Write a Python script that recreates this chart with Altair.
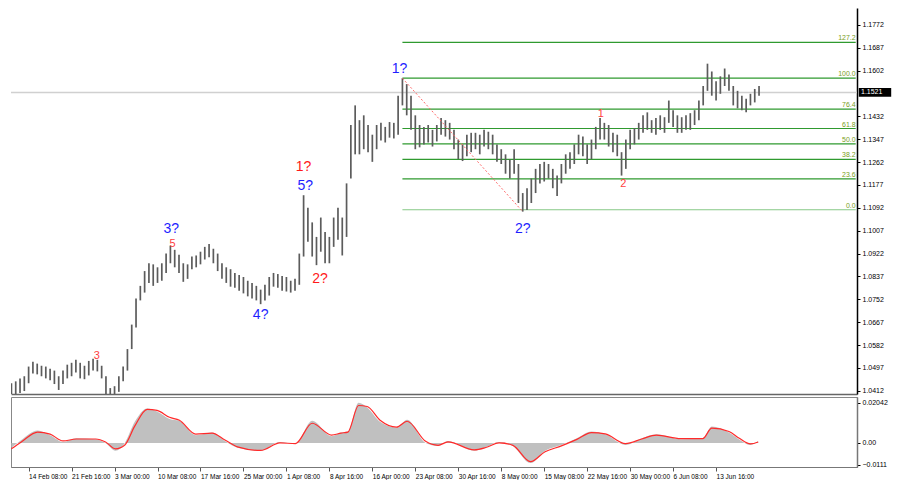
import json
import altair as alt
import pandas as pd

# ---------------- data ----------------
bar_high = [1.0440, 1.0447, 1.0458, 1.0466, 1.0502, 1.0520, 1.0513, 1.0505, 1.0502, 1.0494,
            1.0487, 1.0466, 1.0487, 1.0509, 1.0516, 1.0527, 1.0516, 1.0505, 1.0523, 1.0531,
            1.0527, 1.0505, 1.0466, 1.0422, 1.0429, 1.0466, 1.0502, 1.0567, 1.0658, 1.0755,
            1.0802, 1.0857, 1.0886, 1.0882, 1.0871, 1.0886, 1.0922, 1.0951, 1.0936, 1.0918,
            1.0886, 1.0882, 1.0911, 1.0915, 1.0929, 1.0947, 1.0958, 1.0940, 1.0922, 1.0886,
            1.0871, 1.0864, 1.0850, 1.0842, 1.0835, 1.0821, 1.0813, 1.0802, 1.0788, 1.0806,
            1.0835, 1.0850, 1.0846, 1.0839, 1.0835, 1.0821, 1.0828, 1.0922, 1.1139, 1.1092,
            1.1038, 1.0984, 1.1056, 1.1002, 1.0984, 1.1056, 1.1092, 1.1056, 1.1183, 1.1400,
            1.1473, 1.1418, 1.1436, 1.1400, 1.1364, 1.1400, 1.1408, 1.1393, 1.1411, 1.1408,
            1.1509, 1.1574, 1.1552, 1.1509, 1.1436, 1.1400, 1.1393, 1.1400, 1.1382, 1.1400,
            1.1426, 1.1418, 1.1408, 1.1382, 1.1346, 1.1328, 1.1364, 1.1371, 1.1371, 1.1364,
            1.1382, 1.1375, 1.1364, 1.1328, 1.1310, 1.1291, 1.1273, 1.1310, 1.1255, 1.1147,
            1.1165, 1.1201, 1.1237, 1.1255, 1.1263, 1.1255, 1.1237, 1.1212, 1.1255, 1.1291,
            1.1299, 1.1328, 1.1364, 1.1357, 1.1328, 1.1346, 1.1393, 1.1426, 1.1408, 1.1400,
            1.1371, 1.1364, 1.1299, 1.1346, 1.1382, 1.1389, 1.1408, 1.1436, 1.1447, 1.1418,
            1.1426, 1.1436, 1.1429, 1.1491, 1.1455, 1.1436, 1.1429, 1.1436, 1.1444, 1.1455,
            1.1491, 1.1545, 1.1628, 1.1599, 1.1563, 1.1581, 1.1610, 1.1588, 1.1545, 1.1527,
            1.1509, 1.1498, 1.1516, 1.1534, 1.1545]
bar_low = [1.0400, 1.0400, 1.0404, 1.0411, 1.0440, 1.0476, 1.0473, 1.0466, 1.0458, 1.0451,
           1.0437, 1.0415, 1.0437, 1.0458, 1.0466, 1.0480, 1.0458, 1.0455, 1.0469, 1.0487,
           1.0484, 1.0458, 1.0386, 1.0386, 1.0386, 1.0408, 1.0447, 1.0487, 1.0567, 1.0647,
           1.0748, 1.0777, 1.0813, 1.0802, 1.0813, 1.0821, 1.0850, 1.0886, 1.0871, 1.0850,
           1.0817, 1.0828, 1.0864, 1.0871, 1.0882, 1.0900, 1.0908, 1.0886, 1.0857, 1.0828,
           1.0813, 1.0799, 1.0795, 1.0784, 1.0774, 1.0763, 1.0755, 1.0748, 1.0734, 1.0748,
           1.0766, 1.0799, 1.0795, 1.0784, 1.0781, 1.0777, 1.0784, 1.0806, 1.0911, 1.0966,
           1.0911, 1.0879, 1.0929, 1.0886, 1.0886, 1.0947, 1.0973, 1.0915, 1.0984, 1.1201,
           1.1291, 1.1291, 1.1310, 1.1299, 1.1263, 1.1310, 1.1342, 1.1335, 1.1353, 1.1350,
           1.1364, 1.1473, 1.1436, 1.1382, 1.1310, 1.1317, 1.1328, 1.1335, 1.1320, 1.1339,
           1.1364, 1.1357, 1.1346, 1.1310, 1.1273, 1.1266, 1.1284, 1.1299, 1.1310, 1.1291,
           1.1320, 1.1310, 1.1291, 1.1263, 1.1255, 1.1219, 1.1201, 1.1219, 1.1110, 1.1078,
           1.1084, 1.1110, 1.1147, 1.1183, 1.1190, 1.1201, 1.1165, 1.1136, 1.1183, 1.1219,
           1.1237, 1.1255, 1.1291, 1.1284, 1.1255, 1.1273, 1.1310, 1.1346, 1.1346, 1.1320,
           1.1299, 1.1284, 1.1212, 1.1237, 1.1310, 1.1328, 1.1346, 1.1371, 1.1382, 1.1371,
           1.1364, 1.1382, 1.1371, 1.1408, 1.1393, 1.1371, 1.1371, 1.1382, 1.1382, 1.1400,
           1.1418, 1.1473, 1.1527, 1.1509, 1.1491, 1.1516, 1.1545, 1.1527, 1.1473, 1.1462,
           1.1455, 1.1447, 1.1473, 1.1484, 1.1509]

price_now = 1.1521
price_ticks = [1.0412, 1.0497, 1.0582, 1.0667, 1.0752, 1.0837, 1.0922, 1.1007, 1.1092,
               1.1177, 1.1262, 1.1347, 1.1432, 1.1602, 1.1687, 1.1772]

fib_names = ["0.0", "23.6", "38.2", "50.0", "61.8", "76.4", "100.0", "127.2"]
fib_prices = [1.1085, 1.1200, 1.1272, 1.1330, 1.1387, 1.1459, 1.1574, 1.1707]
fib_start = 91
fib_end = 196.5

trend_x = [91, 119]
trend_y = [1.1574, 1.1078]

wave_text = ["1?", "2?", "3?", "4?", "5?", "1?", "2?", "3", "5", "1", "2"]
wave_x = [90.3, 119.0, 37.2, 58.0, 68.4, 68.0, 71.8, 19.9, 37.5, 137.2, 142.4]
wave_y = [1.1610, 1.1013, 1.1013, 1.0694, 1.1172, 1.1245, 1.0828, 1.0542, 1.0958, 1.1440, 1.1179]
wave_kind = ["blue", "blue", "blue", "blue", "blue", "red", "red", "small", "small", "small", "small"]

macd_x = [0, 2.3, 6.1, 9.0, 12.0, 15.1, 19.6, 21.9, 24.2, 26.4, 28.7, 31.6, 33.9, 36.8, 39.1,
          42.9, 46.7, 49.7, 52.6, 58.0, 62.5, 66.1, 70.0, 74.5, 76.7, 78.3, 80.8, 82.8, 85.8,
          89.6, 92.1, 96.4, 99.3, 101.6, 107.7, 110.6, 113.5, 116.7, 120.8, 124.2, 128.0,
          131.6, 135.0, 138.2, 142.9, 146.7, 150.1, 155.8, 160.9, 163.0, 167.0, 169.3, 172.0, 173.8]
macd_hist = [-0.0024, 0.0015, 0.0063, 0.0039, 0.0005, 0.0024, 0.0019, 0.0000, -0.0039, 0.0000,
             0.0107, 0.0175, 0.0160, 0.0122, 0.0112, 0.0039, 0.0053, 0.0010, -0.0024, -0.0039,
             0.0005, -0.0005, 0.0112, 0.0034, 0.0053, 0.0058, 0.0204, 0.0180, 0.0107, 0.0078,
             0.0117, 0.0000, -0.0015, 0.0010, -0.0039, -0.0019, 0.0005, -0.0015, -0.0102, -0.0039,
             -0.0010, 0.0024, 0.0058, 0.0044, -0.0010, 0.0024, 0.0044, 0.0019, 0.0024, 0.0083,
             0.0053, 0.0019, -0.0010, 0.0010]
macd_signal = [-0.0030, 0.0005, 0.0055, 0.0045, 0.0010, 0.0020, 0.0020, 0.0005, -0.0030, -0.0010,
               0.0085, 0.0170, 0.0165, 0.0130, 0.0115, 0.0045, 0.0050, 0.0015, -0.0020, -0.0038,
               0.0000, -0.0003, 0.0100, 0.0040, 0.0050, 0.0055, 0.0190, 0.0185, 0.0115, 0.0080,
               0.0110, 0.0008, -0.0012, 0.0005, -0.0035, -0.0022, 0.0000, -0.0012, -0.0095, -0.0045,
               -0.0015, 0.0018, 0.0052, 0.0046, -0.0003, 0.0020, 0.0040, 0.0022, 0.0022, 0.0075,
               0.0058, 0.0025, -0.0005, 0.0005]
macd_ticks = [-0.0111, 0.0, 0.02042]

time_pos = [4, 14, 24, 34, 44, 54, 64, 74, 84, 94, 104, 114, 124, 134, 144, 154, 164]
time_labels = ["14 Feb 08:00", "21 Feb 16:00", "3 Mar 00:00", "10 Mar 08:00", "17 Mar 16:00",
               "25 Mar 00:00", "1 Apr 08:00", "8 Apr 16:00", "16 Apr 00:00", "23 Apr 08:00",
               "30 Apr 16:00", "8 May 00:00", "15 May 08:00", "22 May 16:00", "30 May 00:00",
               "6 Jun 08:00", "13 Jun 16:00"]

# ---------------- tables ----------------
bars = pd.DataFrame({"i": list(range(len(bar_high))), "high": bar_high, "low": bar_low})
fib = pd.DataFrame({"name": fib_names, "price": fib_prices,
                    "x0": [fib_start] * len(fib_names), "x1": [fib_end] * len(fib_names)})
trend = pd.DataFrame({"i": trend_x, "p": trend_y})
waves = pd.DataFrame({"t": wave_text, "i": wave_x, "p": wave_y, "k": wave_kind})
macd = pd.DataFrame({"i": macd_x, "h": macd_hist, "s": macd_signal})
now = pd.DataFrame({"p": [price_now], "t": [f"{price_now:.4f}"]})

W = 846
H_MAIN = 386
H_MACD = 70
FONT = "Liberation Sans"

xs = alt.Scale(domain=[-0.1, 196.8], nice=False, zero=False)
ys = alt.Scale(domain=[1.0400, 1.1835], nice=False, zero=False)

y_axis = alt.Axis(orient="right", values=price_ticks, format=".4f", grid=False, title=None,
                  labelFont=FONT, labelFontSize=7, labelColor="#000", tickSize=3,
                  tickColor="#000", domainColor="#000", domainWidth=1.5, labelPadding=2,
                  labelOverlap=False, labelBound=False, labelFlush=False)
xm_axis = alt.Axis(labels=False, ticks=False, grid=False, title=None,
                   domain=True, domainColor="#666", domainWidth=1.5)


def YM(field):
    return alt.Y(field, scale=ys, axis=y_axis)


def XM(field):
    return alt.X(field, scale=xs, axis=xm_axis)


base_now = alt.Chart(now)
now_line = base_now.mark_rule(color="#d0d0d0", strokeWidth=1.5).encode(
    y=YM("p:Q"), x=alt.value(0), x2=alt.value(W))

fib_lines = alt.Chart(fib).mark_rule(strokeWidth=1.2).encode(
    x=XM("x0:Q"), x2="x1:Q", y=YM("price:Q"),
    color=alt.condition(alt.datum.name == "0.0", alt.value("#86c886"), alt.value("#2f9a2f")))
fib_text = alt.Chart(fib).mark_text(align="right", baseline="bottom", dy=-1, font=FONT,
                                    fontSize=7, color="#7a9e22").encode(
    x=XM("x1:Q"), y=YM("price:Q"), text="name:N")

bar_marks = alt.Chart(bars).mark_rule(color="#5c5c5c", strokeWidth=1.7, clip=True).encode(
    x=XM("i:Q"), y=YM("low:Q"), y2="high:Q")

trend_line = alt.Chart(trend).mark_line(color="#ff6a6a", strokeWidth=1, strokeDash=[2, 2]).encode(
    x=XM("i:Q"), y=YM("p:Q"))


def wave_layer(kind, color, size):
    return alt.Chart(waves).transform_filter(alt.datum.k == kind).mark_text(
        font=FONT, fontSize=size, color=color, baseline="middle").encode(
        x=XM("i:Q"), y=YM("p:Q"), text="t:N")


w_blue = wave_layer("blue", "#1f1fff", 14)
w_red = wave_layer("red", "#ff1a1a", 14)
w_small = wave_layer("small", "#ff4040", 11)

box = base_now.mark_point(shape="M-1,-0.27L1,-0.27L1,0.27L-1,0.27Z", filled=True, size=1050,
                          color="#000", opacity=1).encode(
    y=YM("p:Q"), x=alt.value(W + 18))
box_text = base_now.mark_text(align="left", baseline="middle", font=FONT, fontSize=7,
                              color="#fff").encode(
    y=YM("p:Q"), x=alt.value(W + 4), text="t:N")

main = alt.layer(now_line, fib_lines, fib_text, bar_marks, trend_line, w_blue, w_red, w_small,
                 box, box_text).properties(width=W, height=H_MAIN,
                                           view=alt.ViewBackground(stroke=None))

# ---------------- MACD panel ----------------
ms = alt.Scale(domain=[-0.0122, 0.0233], nice=False, zero=False)
label_expr = f"{json.dumps(time_labels)}[indexof({json.dumps(time_pos)}, datum.value)]"
x_axis = alt.Axis(values=time_pos, labelExpr=label_expr, labelAlign="left", labelPadding=2,
                  labelFont=FONT, labelFontSize=6.5, labelColor="#000", tickSize=4,
                  tickColor="#555", domainColor="#777", grid=False, title=None,
                  labelOverlap=False, labelBound=False, labelFlush=False)
m_axis = alt.Axis(orient="right", values=macd_ticks,
                  labelExpr="datum.value == 0 ? '0.00' : (datum.value > 0 ? format(datum.value, '.5f') : format(datum.value, '.4f'))",
                  grid=False, title=None, labelFont=FONT, labelFontSize=7, labelColor="#000",
                  tickSize=3, tickColor="#000", domainColor="#777", domainWidth=1.5,
                  labelPadding=2, labelOverlap=False, labelBound=False, labelFlush=False)

hist = alt.Chart(macd).mark_area(color="#c0c0c0", interpolate="monotone").encode(
    x=alt.X("i:Q", scale=xs, axis=x_axis), y=alt.Y("h:Q", scale=ms, axis=m_axis),
    y2=alt.datum(0))
sig = alt.Chart(macd).mark_line(color="#ff2a2a", strokeWidth=1.2, interpolate="monotone").encode(
    x=alt.X("i:Q", scale=xs, axis=x_axis), y=alt.Y("s:Q", scale=ms, axis=m_axis))

sub = alt.layer(hist, sig).properties(width=W, height=H_MACD,
                                      view=alt.ViewBackground(stroke="#888"))

chart = alt.vconcat(main, sub, spacing=2).resolve_scale(y="independent").properties(
    padding=0, background="#ffffff").configure_view(strokeWidth=1).configure_axis(
    labelOverlap=False)

chart.save("out.html", embed_options={"renderer": "svg", "actions": False})
